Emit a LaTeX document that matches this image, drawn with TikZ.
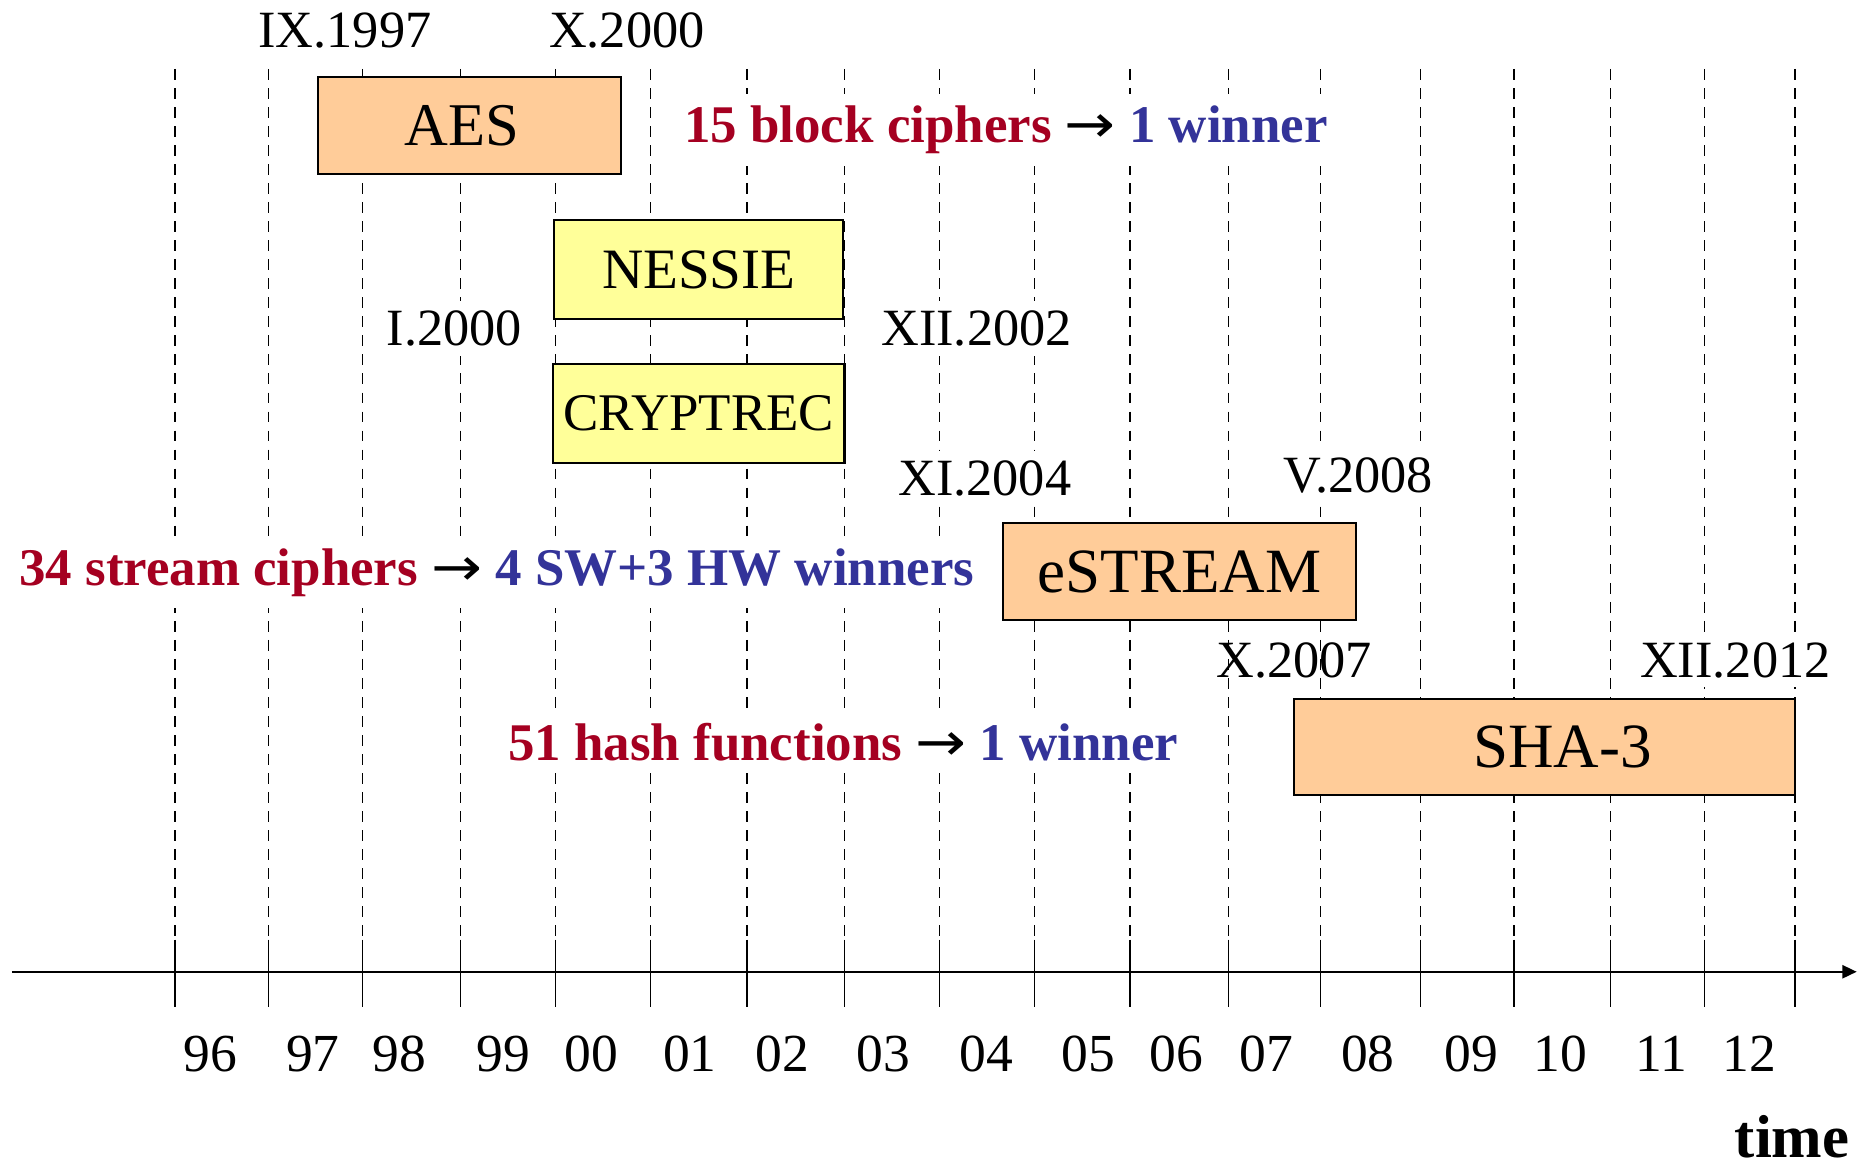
\documentclass[tikz,border=0pt]{standalone}
\usepackage{fontspec}
\setmainfont{Liberation Serif}
\newfontfamily\arrowfont{DejaVu Sans}
\usetikzlibrary{arrows.meta}
\definecolor{boxorange}{HTML}{FFCC99}
\definecolor{boxyellow}{HTML}{FFFF99}
\definecolor{candred}{HTML}{A50021}
\definecolor{winblue}{HTML}{333399}
\newcommand{\yields}{ {\arrowfont\mdseries\scalebox{1.15}[1]{→}} }

\begin{document}
\begin{tikzpicture}[x=1pt,y=-1pt,
  gridline/.style={line width=1.1pt, dash pattern=on 9pt off 7pt},
  tickline/.style={line width=1.1pt},
  period/.style={draw=black, line width=1.8pt, inner sep=0pt},
  datelbl/.style={fill=white, inner xsep=6pt, inner ysep=8pt, font=\fontsize{44}{50}\selectfont},
  yearlbl/.style={inner sep=0pt, font=\fontsize{45}{50}\selectfont},
  countlbl/.style={fill=white, inner xsep=5pt, inner ysep=10pt, anchor=base west,
                   font=\fontsize{44.5}{50}\selectfont\bfseries},
]
\useasboundingbox (0,0) rectangle (1568,983);

% year grid: dashed guides with solid ticks across the axis
\foreach \gx in {147,226,305,387,467,547,628,710,790,870,950,1033,1110,1194,1273,1354,1433,1509} {
  \draw[gridline] (\gx,58) -- (\gx,790);
  \draw[tickline] (\gx,790) -- (\gx,847);
}

% time axis
\coordinate (axstart) at (10,817);
\coordinate (axend) at (1561,817);
\draw[line width=1.8pt, -{Triangle[length=12pt,width=11pt]}] (axstart) -- (axend);

% year labels
\foreach \yx/\yl in {177/96,263/97,336/98,423/99,497/00,580/01,658/02,743/03,829/04,
                     915/05,989/06,1065/07,1150/08,1237/09,1312/10,1397/11,1471/12} {
  \node[yearlbl] (year\yl) at (\yx,886) {\yl};
}
\node[anchor=base east, inner sep=0pt, font=\fontsize{51}{56}\selectfont\bfseries] (timelbl) at (1555,973) {time};

% competitions
\node[period, fill=boxorange, minimum width=255pt, minimum height=81pt,
      font=\fontsize{51}{56}\selectfont] (aes) at (394.5,105.5) {AES\hspace*{12pt}};
\node[period, fill=boxyellow, minimum width=243pt, minimum height=83pt,
      font=\fontsize{48}{54}\selectfont] (nessie) at (587.5,226.5) {NESSIE};
\node[period, fill=boxyellow, minimum width=245pt, minimum height=83pt,
      font=\fontsize{44.5}{50}\selectfont] (cryptrec) at (587.5,347.5) {CRYPTREC};
\node[period, fill=boxorange, minimum width=297pt, minimum height=81pt,
      font=\fontsize{53}{58}\selectfont] (estream) at (991.5,480.5) {eSTREAM};
\node[period, fill=boxorange, minimum width=421pt, minimum height=81pt,
      font=\fontsize{53}{58}\selectfont] (sha3) at (1298.5,628) {\hspace*{30pt}SHA-3};

% start and end dates
\node[datelbl] (aesstart) at (290,26) {IX.1997};
\node[datelbl] (aesend) at (527,26) {X.2000};
\node[datelbl] (nesstart) at (382,276) {I.2000};
\node[datelbl] (nesend) at (821,276) {XII.2002};
\node[datelbl] (eststart) at (828,402) {XI.2004};
\node[datelbl] (estend) at (1142,400) {V.2008};
\node[inner xsep=6pt, inner ysep=8pt, font=\fontsize{44}{50}\selectfont] (shastart) at (1088,555) {X.2007};
\node[datelbl] (shaend) at (1459,555) {XII.2012};

% candidates and winners
\node[countlbl] (blockcount) at (570,120)
  {\textcolor{candred}{15 block ciphers}\yields\textcolor{winblue}{1 winner}};
\node[countlbl] (streamcount) at (11,492)
  {\textcolor{candred}{34 stream ciphers}\yields\textcolor{winblue}{4 SW+3 HW winners}};
\node[countlbl] (hashcount) at (422,639)
  {\textcolor{candred}{51 hash functions}\yields\textcolor{winblue}{1 winner}};
\end{tikzpicture}
\end{document}
